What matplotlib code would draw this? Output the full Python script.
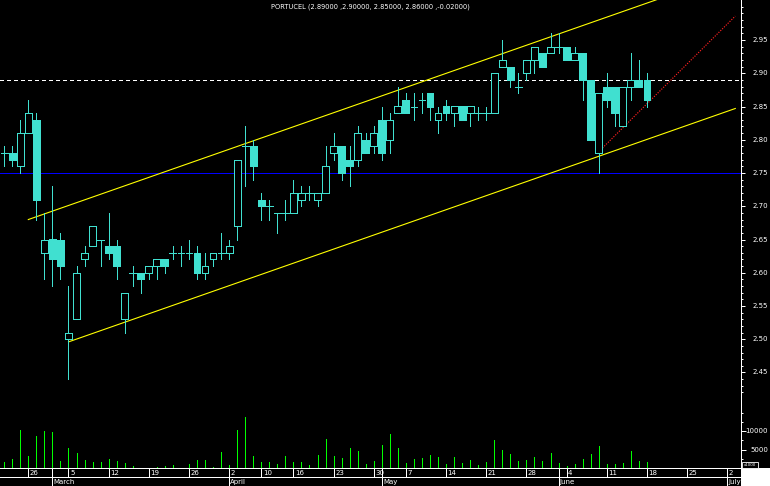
import numpy as np
import pandas as pd
import matplotlib
matplotlib.use("Agg")
import matplotlib.pyplot as plt
from matplotlib.patches import Rectangle
from matplotlib.transforms import blended_transform_factory as btf

# ---------------- data ----------------
symbol = "PORTUCEL"
session_start = "2007-02-21"
session_end = "2007-07-04"
market_holidays = ["2007-04-06", "2007-04-09", "2007-05-01"]

opens = [2.78, 2.78, 2.76, 2.81, 2.83, 2.63, 2.65, 2.65, 2.50, 2.53,
         2.62, 2.64, 2.65, 2.64, 2.64, 2.53, 2.60, 2.60, 2.60, 2.61,
         2.62, 2.63, 2.63, 2.63, 2.63, 2.60, 2.62, 2.63, 2.63, 2.67,
         2.79, 2.79, 2.71, 2.70, 2.69, 2.69, 2.69, 2.71, 2.72, 2.71,
         2.72, 2.78, 2.79, 2.77, 2.77, 2.80, 2.79, 2.83, 2.80, 2.84,
         2.86, 2.85, 2.86, 2.87, 2.83, 2.85, 2.84, 2.85, 2.84, 2.84,
         2.84, 2.84, 2.91, 2.91, 2.88, 2.90, 2.92, 2.93, 2.93, 2.94,
         2.94, 2.92, 2.93, 2.89, 2.78, 2.88, 2.88, 2.82, 2.88, 2.89,
         2.89]
highs = [2.79, 2.79, 2.83, 2.86, 2.84, 2.69, 2.73, 2.66, 2.58, 2.61,
         2.64, 2.67, 2.65, 2.69, 2.65, 2.57, 2.61, 2.60, 2.61, 2.62,
         2.62, 2.64, 2.64, 2.65, 2.64, 2.63, 2.63, 2.66, 2.65, 2.77,
         2.82, 2.80, 2.72, 2.71, 2.69, 2.71, 2.74, 2.73, 2.73, 2.72,
         2.79, 2.81, 2.79, 2.79, 2.82, 2.81, 2.82, 2.85, 2.84, 2.88,
         2.87, 2.87, 2.87, 2.87, 2.85, 2.86, 2.85, 2.85, 2.85, 2.85,
         2.85, 2.90, 2.95, 2.91, 2.90, 2.92, 2.94, 2.93, 2.96, 2.96,
         2.94, 2.94, 2.93, 2.89, 2.87, 2.90, 2.88, 2.88, 2.93, 2.92,
         2.90]
lows = [2.76, 2.76, 2.75, 2.81, 2.68, 2.59, 2.58, 2.59, 2.44, 2.53,
        2.61, 2.64, 2.61, 2.62, 2.59, 2.51, 2.58, 2.57, 2.59, 2.59,
        2.60, 2.62, 2.61, 2.62, 2.59, 2.59, 2.61, 2.62, 2.62, 2.65,
        2.73, 2.74, 2.68, 2.68, 2.66, 2.68, 2.69, 2.70, 2.71, 2.70,
        2.72, 2.77, 2.74, 2.73, 2.76, 2.78, 2.78, 2.77, 2.78, 2.84,
        2.84, 2.83, 2.84, 2.83, 2.81, 2.83, 2.82, 2.83, 2.82, 2.83,
        2.83, 2.84, 2.91, 2.88, 2.87, 2.89, 2.90, 2.91, 2.93, 2.93,
        2.92, 2.92, 2.86, 2.80, 2.75, 2.85, 2.82, 2.82, 2.86, 2.88,
        2.85]
closes = [2.78, 2.77, 2.81, 2.84, 2.71, 2.65, 2.62, 2.61, 2.51, 2.60,
          2.63, 2.67, 2.65, 2.63, 2.61, 2.57, 2.60, 2.59, 2.61, 2.62,
          2.61, 2.63, 2.63, 2.63, 2.60, 2.61, 2.63, 2.63, 2.64, 2.77,
          2.79, 2.76, 2.70, 2.70, 2.69, 2.69, 2.72, 2.72, 2.72, 2.72,
          2.76, 2.79, 2.75, 2.76, 2.81, 2.78, 2.81, 2.78, 2.83, 2.85,
          2.84, 2.85, 2.86, 2.85, 2.84, 2.84, 2.85, 2.83, 2.85, 2.84,
          2.84, 2.90, 2.92, 2.89, 2.88, 2.92, 2.94, 2.91, 2.94, 2.94,
          2.92, 2.93, 2.89, 2.80, 2.87, 2.86, 2.84, 2.88, 2.89, 2.88,
          2.86]
volumes = [1620, 2430, 10270, 3240, 8650, 10000, 9730, 1890, 5410, 4050,
           2160, 1620, 1620, 2430, 1890, 1350, 540, 100, 100, 270,
           540, 810, 100, 1080, 2160, 2160, 270, 4320, 810, 10270,
           13780, 3240, 1620, 1620, 1080, 3240, 1620, 1620, 810, 3510,
           7840, 3240, 2700, 5410, 4590, 1080, 1890, 6220, 9190, 5410,
           1350, 2430, 2700, 3510, 2970, 1080, 2970, 1350, 2160, 810,
           1620, 7570, 4860, 3780, 1890, 2160, 2970, 1890, 4050, 1350,
           540, 1080, 2430, 3780, 5950, 1080, 1080, 1350, 4590, 1890,
           1620]

# drawn trend lines (date, price)
upper_channel_dates = ["2007-02-26", "2007-07-03"]
upper_channel_vals = [2.680, 3.052]
lower_channel_dates = ["2007-03-05", "2007-07-03"]
lower_channel_vals = [2.496, 2.847]
red_trend_dates = ["2007-06-08", "2007-07-03"]
red_trend_vals = [2.782, 2.986]
blue_level = 2.75
dashed_level = 2.89

week_tick_dates = ["2007-02-26", "2007-03-05", "2007-03-12", "2007-03-19", "2007-03-26",
                   "2007-04-02", "2007-04-10", "2007-04-16", "2007-04-23", "2007-04-30",
                   "2007-05-07", "2007-05-14", "2007-05-21", "2007-05-28", "2007-06-04",
                   "2007-06-11", "2007-06-18", "2007-06-25", "2007-07-02"]
week_tick_labels = ["26", "5", "12", "19", "26", "2", "10", "16", "23", "30",
                    "7", "14", "21", "28", "4", "11", "18", "25", "2"]
month_start_dates = ["2007-03-01", "2007-04-02", "2007-05-02", "2007-06-01", "2007-07-02"]
month_labels = ["March", "April", "May", "June", "July"]

price_major_ticks = [2.45, 2.50, 2.55, 2.60, 2.65, 2.70, 2.75, 2.80, 2.85, 2.90, 2.95]
price_minor_ticks = [round(2.42 + 0.01 * k, 2) for k in range(59)]
volume_major_ticks = [5000, 10000]
volume_minor_ticks = [2500, 7500, 12500, 15000]

# ---------------- layout ----------------
W, H = 770, 486
AX_R, AX_B = 741, 468
X0, DX = 4.2, 8.034          # pixel of first session, pixels per session
PY = 665.0                    # pixels per price unit
VOL_PX = 37.0 / 10000         # pixels per volume unit

TURQ = "#40e0d0"
LW = 0.72   # 1 pixel at 100 dpi

sessions = pd.bdate_range(session_start, session_end)
sessions = sessions[~sessions.isin(pd.to_datetime(market_holidays))]
pos = {d: i for i, d in enumerate(sessions)}
def xp(d):
    return pos[pd.Timestamp(d)]

fig = plt.figure(figsize=(W / 100, H / 100), dpi=100, facecolor="black")
ax = fig.add_axes([0, (H - AX_B) / H, AX_R / W, AX_B / H])
ax.set_facecolor("black")
ax.set_xlim(-X0 / DX, (AX_R - X0) / DX)
ax.set_ylim(2.95 - (AX_B - 40) / PY, 2.95 + 40 / PY)

axv = ax.twinx()
axv.set_ylim(0, AX_B / VOL_PX)

for a in (ax, axv):
    for s in ("top", "left"):
        a.spines[s].set_visible(False)
    a.set_xticks([])
axv.spines["bottom"].set_visible(False)
axv.spines["right"].set_visible(False)
ax.spines["right"].set_color("white")
ax.spines["right"].set_linewidth(LW)
ax.spines["bottom"].set_color("white")
ax.spines["bottom"].set_linewidth(LW)

# price ticks
ax.yaxis.tick_right()
ax.set_yticks(price_major_ticks)
ax.set_yticks(price_minor_ticks, minor=True)
ax.tick_params(axis="y", which="major", direction="out", length=2.9, width=LW,
               colors="white", labelright=False, labelleft=False)
ax.tick_params(axis="y", which="minor", direction="out", length=1.45, width=LW,
               colors="white", labelright=False, labelleft=False)
axv.set_yticks(volume_major_ticks)
axv.set_yticks(volume_minor_ticks, minor=True)
axv.tick_params(axis="y", which="major", direction="out", length=3.6, width=LW,
                colors="white", labelright=False)
axv.tick_params(axis="y", which="minor", direction="out", length=1.45, width=LW,
                colors="white", labelright=False)

tp = btf(fig.transFigure, ax.transData)
for v in price_major_ticks:
    ax.text(768 / W, v, f"{v:.2f}", transform=tp, ha="right", va="center",
            fontsize=5, color="white", clip_on=False)
tv = btf(fig.transFigure, axv.transData)
for v in volume_major_ticks:
    axv.text(768 / W, v, f"{v}", transform=tv, ha="right", va="center",
             fontsize=5, color="white", clip_on=False)

# horizontal levels
ax.axhline(blue_level, color="#0000ff", lw=LW, zorder=1, antialiased=False)
ax.axhline(dashed_level, color="white", lw=LW, linestyle=(0, (4, 3)), zorder=1, antialiased=False)

# trend lines
ax.plot([xp(d) for d in upper_channel_dates], upper_channel_vals, color="#ffff00", lw=0.8,
        zorder=1.5)
ax.plot([xp(d) for d in lower_channel_dates], lower_channel_vals, color="#ffff00", lw=0.8,
        zorder=1.5)
ax.plot([xp(d) for d in red_trend_dates], red_trend_vals, color="#ff2020", lw=0.85,
        linestyle=(0, (1, 1.2)), zorder=1.5)

# candles
n = len(closes)
xs = np.arange(n)
BW = 0.85
ax.vlines(xs, lows, highs, color=TURQ, lw=LW, zorder=2, antialiaseds=False)
for i in range(n):
    o, c = opens[i], closes[i]
    if abs(c - o) < 1e-9:
        ax.hlines(o, i - BW / 2, i + BW / 2, color=TURQ, lw=LW, zorder=3, antialiaseds=False)
    elif c < o:
        ax.bar(i, o - c, bottom=c, width=BW, color=TURQ, edgecolor=TURQ, lw=LW, zorder=3,
               antialiased=False)
    else:
        ax.bar(i, c - o, bottom=o, width=BW, facecolor="black", edgecolor=TURQ, lw=LW, zorder=3,
               antialiased=False)

# volume
axv.vlines(xs, 0, volumes, color="#00ff00", lw=LW, antialiaseds=False)

# date axis rows
ta = btf(ax.transData, ax.transAxes)
row1 = -9 / AX_B
row2 = -(H - AX_B) / AX_B
ax.plot([0, 1], [row1, row1], transform=ax.transAxes, color="white", lw=LW, clip_on=False,
        antialiased=False)
for d, lab in zip(week_tick_dates, week_tick_labels):
    x = xp(d)
    ax.plot([x, x], [0, row1], transform=ta, color="white", lw=LW, clip_on=False, antialiased=False)
    ax.text(x + 1.6 / DX, -4.6 / AX_B, lab, transform=ta, ha="left", va="center",
            fontsize=5, color="white", clip_on=False)
for d, lab in zip(month_start_dates, month_labels):
    x = xp(d)
    ax.plot([x, x], [0, row2], transform=ta, color="white", lw=LW, clip_on=False, antialiased=False)
    ax.text(x + 1.2 / DX, -13.8 / AX_B, lab, transform=ta, ha="left", va="center",
            fontsize=5, color="white", clip_on=False)

# bottom-right corner and unit box
fig.add_artist(Rectangle((AX_R / W, 0), (W - AX_R) / W, (H - AX_B) / H,
                         transform=fig.transFigure, facecolor="white", edgecolor="none"))
fig.add_artist(Rectangle((742 / W, (H - 467.5) / H), 16 / W, 6 / H,
                         transform=fig.transFigure, facecolor="black", edgecolor="white", lw=0.6))
fig.text(750 / W, (H - 464.5) / H, "x1000", ha="center", va="center", fontsize=2.8, color="white")

# title
chg = closes[-1] - closes[-2]
title = f"{symbol} ({opens[-1]:.5f} ,{highs[-1]:.5f}, {lows[-1]:.5f}, {closes[-1]:.5f} ,{chg:.5f})"
fig.text(370 / W, 1 - 6.5 / H, title, ha="center", va="center", fontsize=4.8, color="white")

fig.savefig("out.png", dpi=100, facecolor="black")
